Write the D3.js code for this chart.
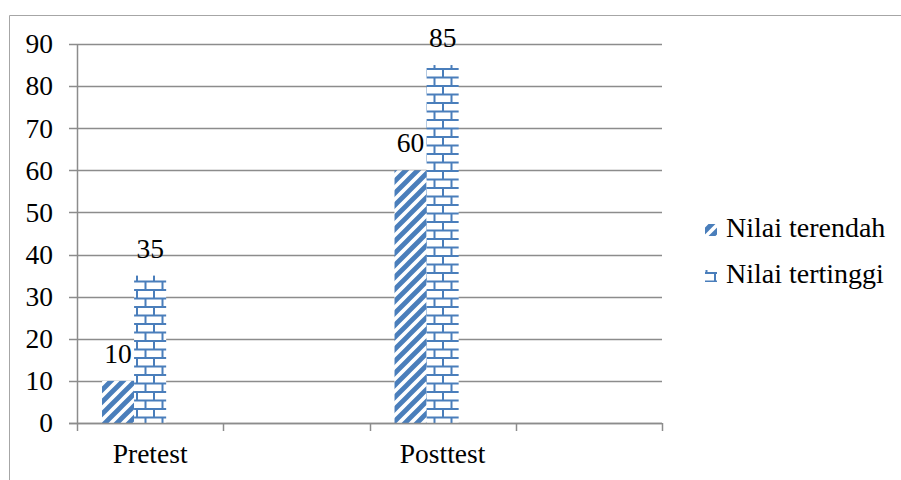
<!DOCTYPE html>
<html>
<head>
<meta charset="utf-8">
<script src="https://cdn.jsdelivr.net/npm/d3@7/dist/d3.min.js"></script>
</head>
<body style="margin:0">
<svg id="chart" width="901" height="480"></svg>
<script>
// ---- data ----
const categories = ["Pretest", "", "Posttest", ""];
const seriesNames = ["Nilai terendah", "Nilai tertinggi"];
const nilaiTerendah = [10, null, 60, null];
const nilaiTertinggi = [35, null, 85, null];
const yTicks = [0, 10, 20, 30, 40, 50, 60, 70, 80, 90];

const seriesValues = [nilaiTerendah, nilaiTertinggi];

// ---- layout ----
const W = 901, H = 480;
const plot = { left: 77, right: 662, top: 44, bottom: 423 };
const blue = "#4a7ebb";
const fontSize = 27.5;
const serifFont = "Times New Roman";

function styleText(sel, size) {
  return sel.attr("font-family", serifFont)
    .style("font-family", "'Times New Roman', 'Liberation Serif', Tinos, serif")
    .attr("font-size", size || fontSize)
    .attr("fill", "#000");
}

const svg = d3.select("#chart");
const defs = svg.append("defs");

// diagonal stripes (wide upward diagonal)
const p1 = defs.append("pattern")
  .attr("id", "pat0").attr("patternUnits", "userSpaceOnUse")
  .attr("width", 12).attr("height", 12);
p1.append("rect").attr("width", 12).attr("height", 12).attr("fill", "#fff");
p1.append("path")
  .attr("d", "M-3,3 L3,-3 M0,12 L12,0 M9,15 L15,9")
  .attr("stroke", blue).attr("stroke-width", 4.8);

// horizontal bricks
const p2 = defs.append("pattern")
  .attr("id", "pat1").attr("patternUnits", "userSpaceOnUse")
  .attr("width", 17).attr("height", 17);
p2.append("rect").attr("width", 17).attr("height", 17).attr("fill", "#fff");
p2.append("path")
  .attr("d", "M0,1 H17 M0,9.5 H17 M1,1 V9.5 M9.5,9.5 V17")
  .attr("stroke", blue).attr("stroke-width", 2).attr("fill", "none");

// chart border
svg.append("path")
  .attr("d", `M9.5,${H + 2} V15.5 H${W + 2}`)
  .attr("fill", "none").attr("stroke", "#a6a6a6").attr("stroke-width", 1);

// scales
const x0 = d3.scaleBand().domain(d3.range(categories.length))
  .range([plot.left, plot.right]).padding(0);
const x1 = d3.scaleBand().domain(d3.range(3))
  .range([0, x0.bandwidth()]).paddingOuter(0.78).paddingInner(0);
const y = d3.scaleLinear().domain([0, 90]).range([plot.bottom, plot.top]);

// gridlines
svg.append("g").selectAll("line").data(yTicks).join("line")
  .attr("x1", plot.left - 8).attr("x2", plot.right)
  .attr("y1", d => Math.round(y(d)) + 0.5).attr("y2", d => Math.round(y(d)) + 0.5)
  .attr("stroke", "#8c8c8c").attr("stroke-width", 1.5);

// y labels
styleText(svg.append("g").selectAll("text").data(yTicks).join("text"))
  .attr("x", 53).attr("y", d => y(d)).attr("dy", "0.34em")
  .attr("text-anchor", "end")
  .text(d => d);

// y axis line
svg.append("line")
  .attr("x1", plot.left + 0.5).attr("x2", plot.left + 0.5)
  .attr("y1", plot.top).attr("y2", plot.bottom + 1)
  .attr("stroke", "#8c8c8c").attr("stroke-width", 1.5);

// x ticks
const xTickPos = d3.range(categories.length + 1).map(i =>
  i < categories.length ? x0(i) : x0(i - 1) + x0.bandwidth());
svg.append("g").selectAll("line").data(xTickPos).join("line")
  .attr("x1", d => Math.round(d) + 0.5).attr("x2", d => Math.round(d) + 0.5)
  .attr("y1", plot.bottom).attr("y2", plot.bottom + 8)
  .attr("stroke", "#8c8c8c").attr("stroke-width", 1.5);

// bars
seriesValues.forEach((vals, s) => {
  const g = svg.append("g");
  const data = vals.map((v, i) => ({ i, v })).filter(d => d.v != null);
  g.selectAll("rect").data(data).join("rect")
    .attr("x", d => x0(d.i) + x1(s))
    .attr("width", x1.bandwidth())
    .attr("y", d => y(d.v))
    .attr("height", d => y(0) - y(d.v))
    .attr("fill", `url(#pat${s})`);
  styleText(g.selectAll("text").data(data).join("text"))
    .attr("x", d => x0(d.i) + x1(s) + x1.bandwidth() / 2)
    .attr("y", d => y(d.v) - 18)
    .attr("text-anchor", "middle")
    .text(d => d.v);
});

// x axis line (on top of bars)
svg.append("line")
  .attr("x1", plot.left - 8).attr("x2", plot.right)
  .attr("y1", plot.bottom + 0.5).attr("y2", plot.bottom + 0.5)
  .attr("stroke", "#8c8c8c").attr("stroke-width", 1.5);

// x labels
styleText(svg.append("g").selectAll("text")
  .data(categories.map((c, i) => ({ c, i })).filter(d => d.c))
  .join("text"))
  .attr("x", d => x0(d.i) + x0.bandwidth() / 2)
  .attr("y", 463)
  .attr("text-anchor", "middle")
  .text(d => d.c);

// legend
const legend = svg.append("g");
seriesNames.forEach((name, s) => {
  const ly = 237 + s * 46;
  legend.append("rect")
    .attr("x", 705).attr("y", ly - 13).attr("width", 12).attr("height", 12)
    .attr("fill", `url(#pat${s})`);
  styleText(legend.append("text"), 28)
    .attr("x", 726).attr("y", ly)
    .text(name);
});
</script>
</body>
</html>
